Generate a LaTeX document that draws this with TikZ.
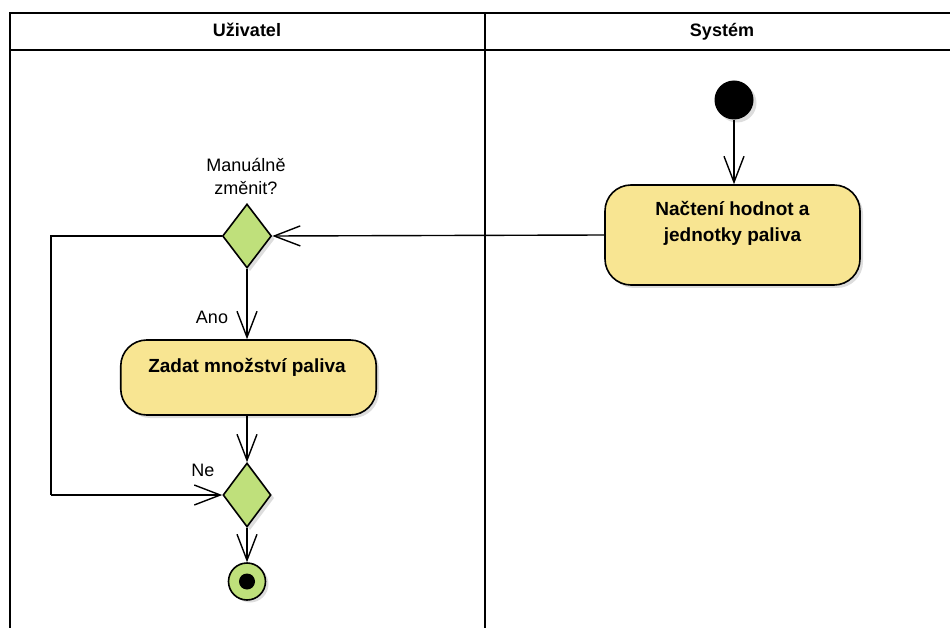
\documentclass[tikz,border=0pt]{standalone}
\usepackage{fontspec}
\setmainfont{Liberation Sans}
\usetikzlibrary{arrows.meta,shapes.geometric}
\definecolor{actfill}{RGB}{248,229,146}
\definecolor{decfill}{RGB}{191,224,123}
\begin{document}
\begin{tikzpicture}[x=1pt,y=-1pt,
  font=\fontsize{18}{23}\selectfont,
  lane/.style={draw=black,line width=2pt},
  lanetitle/.style={font=\fontsize{18}{23}\selectfont\bfseries,anchor=base},
  shade/.style={fill=black!22,draw=none,opacity=0.6},
  action/.style={draw=black,line width=1.6pt,fill=actfill,rounded corners=26pt},
  acttext/.style={font=\fontsize{19}{25.5}\selectfont\bfseries,align=center},
  decision/.style={draw=black,line width=1.6pt,fill=decfill,diamond,inner sep=0pt},
  flow/.style={draw=black,line width=1.4pt,-{Straight Barb[length=26pt,width=20pt,line width=1.4pt]}},
  plain/.style={draw=black,line width=1.4pt}
]
\useasboundingbox (0,0) rectangle (950,628);

% swimlane frame
\draw[lane] (10,660) -- (10,13) -- (960,13);
\draw[lane] (10,50) -- (960,50);
\draw[lane] (485,13) -- (485,660);
\node[lanetitle] (hUser) at (247,37) {Uživatel};
\node[lanetitle] (hSys) at (722,37) {Systém};

% start node
\fill[shade] (737,103) circle (19.5);
\node[circle,fill=black,minimum size=39pt,inner sep=0pt] (start) at (734,100) {};

% action: load values
\fill[shade,rounded corners=26pt] (608,188) rectangle (863,288);
\node[action,minimum width=255pt,minimum height=100pt,inner sep=0pt] (act1) at (732.5,235) {};
\node[acttext,anchor=north] (act1t) at (732.5,198) {Načtení hodnot a\\jednotky paliva};

% first decision
\fill[shade] (250,207) -- (274.5,239) -- (250,271) -- (225.5,239) -- cycle;
\node[decision,minimum width=49pt,minimum height=64pt] (d1) at (247,236) {};
\node[align=center] (d1t) at (246,176) {Manuálně\\změnit?};

% action: enter amount
\fill[shade,rounded corners=26pt] (124,343) rectangle (379,418);
\node[action,minimum width=255.5pt,minimum height=75pt,inner sep=0pt] (act2) at (248.5,377.5) {};
\node[acttext] (act2t) at (247,367) {Zadat množství paliva};

% merge decision
\fill[shade] (250,466) -- (274,498) -- (250,530) -- (226,498) -- cycle;
\node[decision,minimum width=48pt,minimum height=64pt] (d2) at (247,495) {};

% final node
\fill[shade] (250,584) circle (18.5);
\node[circle,draw=black,line width=1.6pt,fill=decfill,minimum size=37pt,inner sep=0pt] (end) at (247,581.5) {};
\node[circle,fill=black,minimum size=16pt,inner sep=0pt] (endc) at (end) {};

% flows
\draw[flow] (start) -- (start |- act1.north);
\draw[flow] (act1.west) -- (d1.east);
\draw[flow] (d1.south) -- (d1.south |- act2.north);
\node (ano) at (212,317) {Ano};
\draw[flow] (d1.south |- act2.south) -- (d2.north);
\coordinate (loopTop) at (51,236);
\coordinate (loopBot) at (51,495);
\draw[plain] (d1.west) -- (loopTop) -- (loopBot);
\draw[flow] (loopBot) -- (d2.west);
\node (ne) at (203,470) {Ne};
\draw[flow] (d2.south) -- (end.north);
\end{tikzpicture}
\end{document}
